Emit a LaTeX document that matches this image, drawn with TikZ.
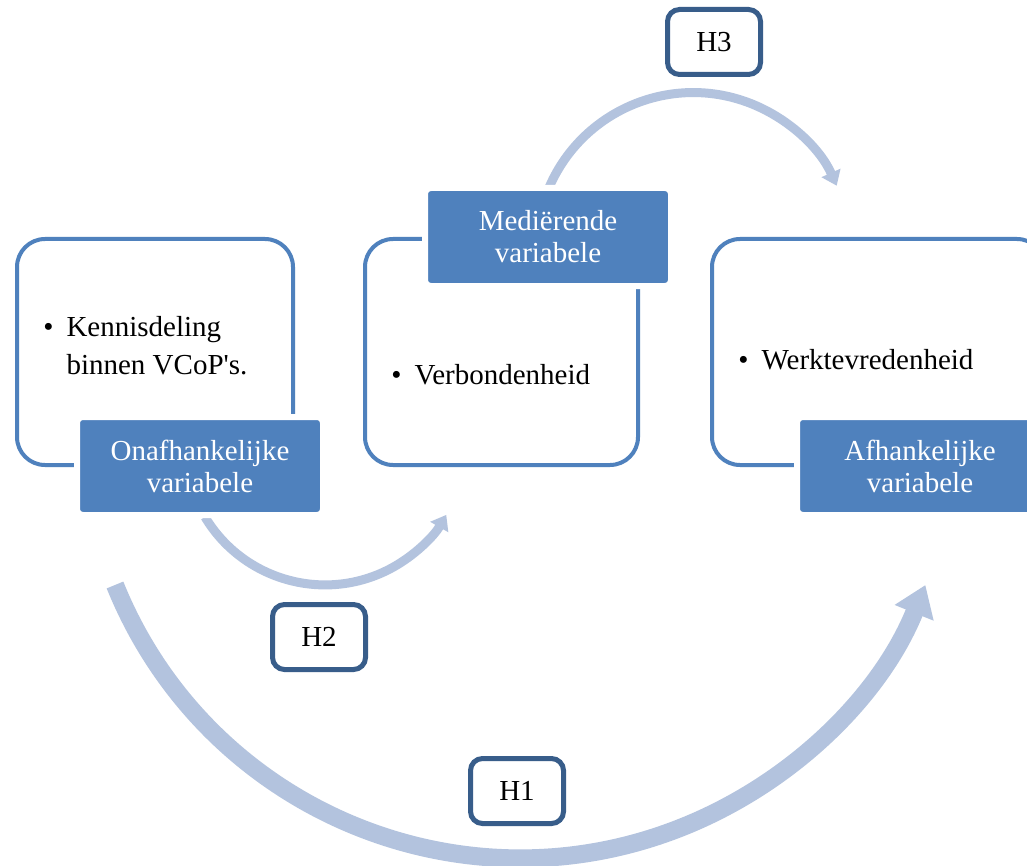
\documentclass[tikz,border=0pt]{standalone}
\usepackage{fontspec}
\setmainfont{Liberation Serif}
\usepackage{xcolor}
\usetikzlibrary{arrows.meta,positioning}
\definecolor{boxblue}{RGB}{79,129,189}
\definecolor{arcblue}{RGB}{179,195,222}
\definecolor{hypblue}{RGB}{56,93,138}

\begin{document}
\begin{tikzpicture}[x=0.5pt, y=-0.5pt,
  font=\fontsize{14.5}{19}\selectfont,
  frame/.style={draw=boxblue, line width=2pt, rounded corners=14pt,
                minimum width=138pt, minimum height=113pt},
  tag/.style={fill=boxblue, draw=white, line width=3pt, rounded corners=3pt,
              minimum width=123pt, minimum height=49pt, text=white, align=center,
              font=\fontsize{14.5}{16}\selectfont},
  hyp/.style={draw=hypblue, fill=white, line width=2.5pt, rounded corners=6pt,
              minimum width=46.5pt, minimum height=32.5pt},
  item/.style={anchor=base west, inner sep=0pt},
  link/.style={arcblue, line width=4.5pt, -{Triangle[width=10pt,length=7pt]}},
  biglink/.style={arcblue, line width=9pt, -{Triangle[width=20pt,length=15pt]}}]
\useasboundingbox (0,0) rectangle (1027,866);
\fill[white] (0,0) rectangle (1027,866);

\node[frame] (kennis) at (155,352) {};
\node[frame, minimum width=136.5pt] (verbond) at (501.5,352) {};
\node[frame, minimum width=166.5pt] (werk) at (878.5,352) {};

\node[item] (kd) at (43,336) {\begin{tabular}[t]{@{}l@{\hspace{6.5pt}}l@{}}\textbullet & Kennisdeling\\ & binnen VCoP\textquotesingle s.\end{tabular}};
\node[item] (vb) at (391,384) {\textbullet\hspace{6.5pt}Verbondenheid};
\node[item] (wt) at (738,369) {\textbullet\hspace{6.5pt}Werktevredenheid};

\coordinate (h1s) at (115,585);
\coordinate (h2s) at (205,517);
\coordinate (h3s) at (548,190);
\draw[biglink] (h1s) arc[start angle=158, end angle=22, radius=437];
\draw[link] (h2s) arc[start angle=149, end angle=30, radius=140];
\draw[link] (h3s) arc[start angle=202.3, end angle=336, radius=157];

\node[tag] (onaf) at (200,466) {Onafhankelijke\\variabele};
\node[tag] (medi) at (548,237) {Mediërende\\variabele};
\node[tag] (afh) at (920,466) {Afhankelijke\\variabele};

\node[hyp] (hthree) at (714,42) {H3};
\node[hyp] (htwo) at (319,637) {H2};
\node[hyp] (hone) at (517,791) {H1};
\end{tikzpicture}
\end{document}
